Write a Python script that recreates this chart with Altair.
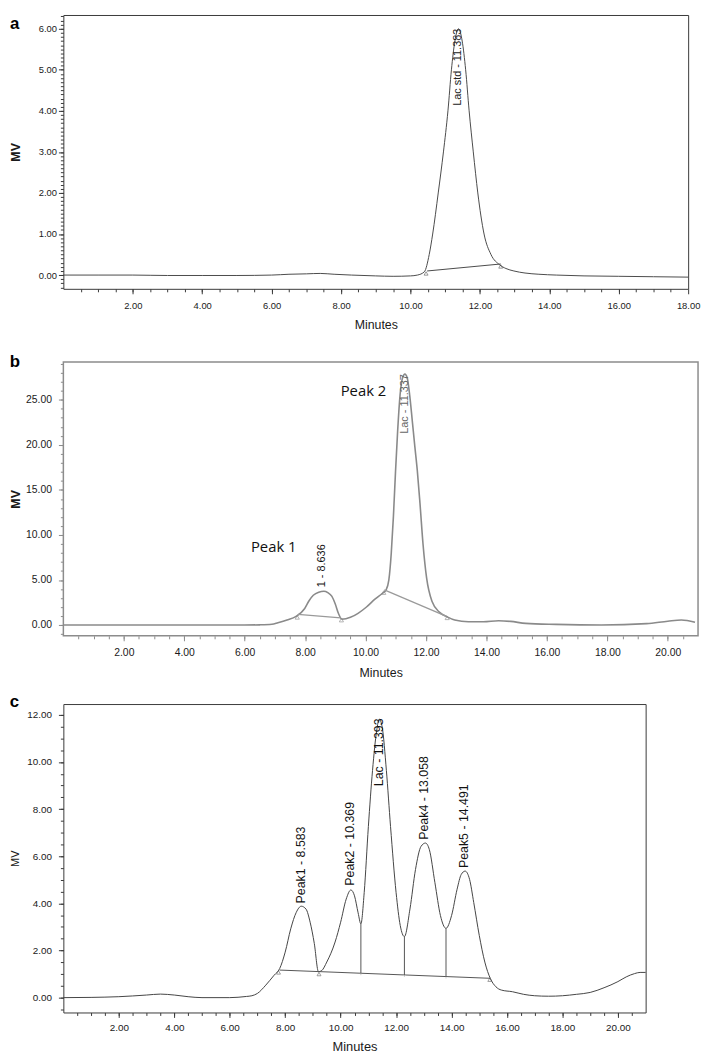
import altair as alt
import pandas as pd

FONT = "Liberation Sans"

# ---------------- Panel a : lactose standard ----------------
A_T = [0, 1, 2, 3, 4, 5, 6, 6.5, 7.0, 7.4, 7.8, 8.3, 9.0, 9.5, 10.0, 10.2, 10.4, 10.54, 10.64,
       10.8, 10.95, 11.08, 11.18, 11.28, 11.383, 11.49, 11.59, 11.69, 11.81, 11.94, 12.12, 12.32,
       12.57, 12.75, 12.98, 13.3, 13.7, 14.2, 15, 16, 17, 18]
A_MV = [0, 0, 0, -0.01, -0.01, -0.01, 0.0, 0.02, 0.03, 0.04, 0.02, 0.0, -0.02, -0.03, -0.02, 0.0,
        0.08, 0.5, 1.0, 2.0, 3.0, 4.0, 5.0, 5.7, 6.0, 5.7, 5.0, 4.0, 3.0, 2.0, 1.0, 0.5, 0.25,
        0.16, 0.1, 0.05, 0.02, 0.0, -0.02, -0.03, -0.04, -0.05]
A_BASE_T = [10.48, 12.6]
A_BASE_MV = [0.1, 0.27]
A_MARK_T = [10.45, 12.6]
A_MARK_MV = [0.04, 0.21]
A_LAB = ["Lac std - 11.383"]
A_LAB_T = [11.383]
A_LAB_MV = [6.0]
A_XMAJ = [2, 4, 6, 8, 10, 12, 14, 16, 18]
A_YMAJ = [0, 1, 2, 3, 4, 5, 6]
A_LETTER = ["a"]
A_LETTER_T = [-1.54]
A_LETTER_MV = [6.0]

# ---------------- Panel b : sample ----------------
B_T = [0, 2, 4, 6, 6.5, 6.9, 7.1, 7.4, 7.7, 7.98, 8.13, 8.27, 8.45, 8.62, 8.75, 8.88, 9.0, 9.1,
       9.22, 9.35, 9.5, 9.75, 10.03, 10.32, 10.55, 10.68, 10.77, 10.85, 10.92, 10.99, 11.06,
       11.14, 11.22, 11.3, 11.38, 11.46, 11.55, 11.63, 11.71, 11.8, 11.9, 12.02, 12.2, 12.45,
       12.7, 12.95, 13.4, 13.9, 14.4, 14.8, 15.3, 16.3, 17.8, 19.3, 20.0, 20.45, 20.9]
B_MV = [0, 0, 0, 0, 0.02, 0.08, 0.25, 0.55, 0.95, 1.8, 2.7, 3.3, 3.65, 3.75, 3.6, 3.2, 2.3, 1.3,
        0.65, 0.7, 0.85, 1.3, 2.0, 2.9, 3.5, 3.9, 5.0, 8.0, 12.0, 17.0, 21.5, 25.5, 27.4, 27.85,
        27.4, 25.5, 22.5, 19.8, 17.2, 13.5, 9.0, 5.2, 2.6, 1.4, 0.9, 0.55, 0.36, 0.36, 0.47,
        0.4, 0.18, 0.07, 0.0, 0.15, 0.42, 0.55, 0.3]
B_BASE_T = [7.76, 9.18, 10.62, 12.68]
B_BASE_MV = [1.17, 0.8, 3.9, 0.95]
B_BASE_SEG = ["p1", "p1", "p2", "p2"]
B_MARK_T = [7.74, 9.2, 10.6, 12.7]
B_MARK_MV = [0.85, 0.55, 3.6, 0.8]
B_LAB_R = ["Lac - 11.337"]
B_LAB_R_T = [11.3]
B_LAB_R_MV = [27.85]
B_LAB_L = ["1 - 8.636"]
B_LAB_L_T = [8.56]
B_LAB_L_MV = [4.2]
B_ANN = ["Peak 1", "Peak 2"]
B_ANN_T = [6.96, 9.93]
B_ANN_MV = [8.7, 26.0]
B_XMAJ = [2, 4, 6, 8, 10, 12, 14, 16, 18, 20]
B_YMAJ = [0, 5, 10, 15, 20, 25]
B_LETTER = ["b"]
B_LETTER_T = [-1.77]
B_LETTER_MV = [28.65]

# ---------------- Panel c : sample ----------------
C_T = [0, 1, 2, 3, 3.5, 4, 4.5, 5, 6, 6.6, 6.8, 7.0, 7.3, 7.6, 7.8, 8.0, 8.2, 8.4, 8.58, 8.75,
       8.9, 9.05, 9.2, 9.32, 9.5, 9.8, 10.0, 10.2, 10.37, 10.5, 10.63, 10.73, 10.85, 11.0, 11.15,
       11.3, 11.39, 11.5, 11.65, 11.8, 12.0, 12.15, 12.3, 12.5, 12.7, 12.9, 13.06, 13.2, 13.4,
       13.6, 13.8, 14.0, 14.2, 14.35, 14.49, 14.65, 14.8, 15.0, 15.2, 15.4, 15.6, 15.8, 16.2,
       16.6, 17.0, 17.5, 18.0, 18.5, 19.0, 19.5, 20.0, 20.3, 20.6, 20.8, 21.0]
C_MV = [0, 0.01, 0.04, 0.11, 0.15, 0.11, 0.04, 0.0, 0.0, 0.05, 0.08, 0.18, 0.53, 0.95, 1.23,
        1.93, 2.92, 3.62, 3.88, 3.76, 3.2, 2.3, 1.1, 1.15, 1.51, 2.36, 3.2, 4.18, 4.57, 4.32,
        3.6, 3.13, 4.46, 7.26, 9.64, 11.33, 11.82, 11.47, 9.64, 7.26, 4.46, 3.06, 2.59, 3.76,
        5.44, 6.42, 6.56, 6.28, 4.88, 3.48, 2.94, 3.48, 4.6, 5.23, 5.37, 5.02, 4.04, 2.64, 1.51,
        0.81, 0.46, 0.32, 0.25, 0.14, 0.08, 0.06, 0.08, 0.14, 0.22, 0.42, 0.68, 0.88, 1.02,
        1.07, 1.07]
C_BASE_T = [7.8, 15.4]
C_BASE_MV = [1.17, 0.82]
C_DROP_T = [10.73, 12.3, 13.8]
C_DROP_TOP = [3.13, 2.59, 2.94]
C_DROP_BOT = [0.95, 0.88, 0.81]
C_TRI_T = [7.76, 9.22, 15.38]
C_TRI_MV = [1.07, 1.0, 0.76]
C_LAB_L = ["Peak1 - 8.583", "Peak2 - 10.369", "Peak4 - 13.058", "Peak5 - 14.491"]
C_LAB_L_T = [8.56, 10.33, 13.01, 14.46]
C_LAB_L_MV = [4.0, 4.75, 6.7, 5.5]
C_LAB_R = ["Lac - 11.393"]
C_LAB_R_T = [11.39]
C_LAB_R_MV = [11.85]
C_XMAJ = [2, 4, 6, 8, 10, 12, 14, 16, 18, 20]
C_YMAJ = [0, 2, 4, 6, 8, 10, 12]
C_LETTER = ["c"]
C_LETTER_T = [-1.93]
C_LETTER_MV = [12.33]


def steps(lo, hi, step):
    out, v = [], lo
    while v <= hi + 1e-9:
        out.append(round(v, 3))
        v += step
    return out


def make_axes(col, xmaj, xmin, ymaj, ymin, lab_size, x_lab_pad, y_lab_pad,
              xt_size, xt_pad, yt_size, yt_weight, yt_pad):
    ax_x = alt.Axis(orient="bottom", values=xmaj, format=".2f", title="Minutes", grid=False,
                    domain=False, tickSize=5, tickColor=col, tickWidth=1,
                    labelFont=FONT, labelFontSize=lab_size, labelColor="#1a1a1a",
                    labelPadding=x_lab_pad, labelFlush=False, labelOverlap=False,
                    titleFont=FONT, titleFontSize=xt_size, titleFontWeight="normal",
                    titleColor="#1a1a1a", titlePadding=xt_pad)
    ax_xm = alt.Axis(orient="bottom", values=xmin, labels=False, title=None, grid=False,
                     domain=False, tickSize=3, tickColor=col, tickWidth=1)
    ax_y = alt.Axis(orient="left", values=ymaj, format=".2f", title="MV", grid=False,
                    domain=False, tickSize=5, tickColor=col, tickWidth=1,
                    labelFont=FONT, labelFontSize=lab_size, labelColor="#1a1a1a",
                    labelPadding=y_lab_pad, labelFlush=False, labelOverlap=False,
                    titleFont=FONT, titleFontSize=yt_size, titleFontWeight=yt_weight,
                    titleColor="#1a1a1a", titlePadding=yt_pad)
    ax_ym = alt.Axis(orient="left", values=ymin, labels=False, title=None, grid=False,
                     domain=False, tickSize=3, tickColor=col, tickWidth=1)
    return ax_x, ax_xm, ax_y, ax_ym


def vtext(df, xs, ys, align, size, color, font=FONT):
    return alt.Chart(df).mark_text(angle=270, align=align, baseline="middle", font=font,
                                   fontSize=size, color=color).encode(
        x=alt.X("t:Q", scale=xs, axis=None), y=alt.Y("mv:Q", scale=ys, axis=None), text="lab:N")


def letter(letters, ts, mvs, xs, ys):
    return alt.Chart(pd.DataFrame({"t": ts, "mv": mvs, "lab": letters})).mark_text(
        align="left", baseline="alphabetic", font=FONT, fontSize=17, fontWeight="bold",
        color="#000000").encode(
        x=alt.X("t:Q", scale=xs, axis=None), y=alt.Y("mv:Q", scale=ys, axis=None), text="lab:N")


# ---------------- build panel a ----------------
xs_a = alt.Scale(domain=[0, 18], nice=False, zero=False)
ys_a = alt.Scale(domain=[-0.335, 6.335], nice=False, zero=False)
col_a = "#3a3a3a"
ax = make_axes(col_a, A_XMAJ, steps(0.5, 17.5, 0.5), A_YMAJ, steps(-0.3, 6.3, 0.1),
               9.5, 7, 2, 12.5, 8.5, 12.5, "bold", 16)
a_curve = alt.Chart(pd.DataFrame({"t": A_T, "mv": A_MV})).mark_line(
    interpolate="monotone", color="#4a4a4a", strokeWidth=1).encode(
    x=alt.X("t:Q", scale=xs_a, axis=ax[0]), y=alt.Y("mv:Q", scale=ys_a, axis=ax[2]))
a_base = alt.Chart(pd.DataFrame({"t": A_BASE_T, "mv": A_BASE_MV})).mark_line(
    color="#4a4a4a", strokeWidth=1).encode(
    x=alt.X("t:Q", scale=xs_a, axis=ax[1]), y=alt.Y("mv:Q", scale=ys_a, axis=ax[3]))
a_mark = alt.Chart(pd.DataFrame({"t": A_MARK_T, "mv": A_MARK_MV})).mark_point(
    shape="triangle-up", size=16, filled=False, color="#4a4a4a", strokeWidth=0.8).encode(
    x=alt.X("t:Q", scale=xs_a, axis=None), y=alt.Y("mv:Q", scale=ys_a, axis=None))
a_lab = vtext(pd.DataFrame({"t": A_LAB_T, "mv": A_LAB_MV, "lab": A_LAB}), xs_a, ys_a,
              "right", 11, "#222222")
a_let = letter(A_LETTER, A_LETTER_T, A_LETTER_MV, xs_a, ys_a)
panel_a = alt.layer(a_curve, a_base, a_mark, a_lab, a_let).resolve_axis(
    x="independent", y="independent").properties(
    width=632, height=277, view=alt.ViewBackground(stroke=col_a, strokeWidth=1))

# ---------------- build panel b ----------------
xs_b = alt.Scale(domain=[0, 21], nice=False, zero=False)
ys_b = alt.Scale(domain=[-1.2, 29.2], nice=False, zero=False)
col_b = "#8c8c8c"
ax = make_axes(col_b, B_XMAJ, steps(0.5, 20.5, 0.5), B_YMAJ, steps(-1, 29, 1),
               10.5, 7, 7, 12.5, 8.5, 12.5, "bold", 3)
b_curve = alt.Chart(pd.DataFrame({"t": B_T, "mv": B_MV})).mark_line(
    interpolate="monotone", color="#8a8a8a", strokeWidth=1.6).encode(
    x=alt.X("t:Q", scale=xs_b, axis=ax[0]), y=alt.Y("mv:Q", scale=ys_b, axis=ax[2]))
b_base = alt.Chart(pd.DataFrame({"t": B_BASE_T, "mv": B_BASE_MV, "seg": B_BASE_SEG})).mark_line(
    color="#9a9a9a", strokeWidth=1.3).encode(
    x=alt.X("t:Q", scale=xs_b, axis=ax[1]), y=alt.Y("mv:Q", scale=ys_b, axis=ax[3]),
    detail="seg:N")
b_mark = alt.Chart(pd.DataFrame({"t": B_MARK_T, "mv": B_MARK_MV})).mark_point(
    shape="triangle-up", size=18, filled=False, color="#888888", strokeWidth=0.9).encode(
    x=alt.X("t:Q", scale=xs_b, axis=None), y=alt.Y("mv:Q", scale=ys_b, axis=None))
b_lab_r = vtext(pd.DataFrame({"t": B_LAB_R_T, "mv": B_LAB_R_MV, "lab": B_LAB_R}), xs_b, ys_b,
                "right", 11, "#666666")
b_lab_l = vtext(pd.DataFrame({"t": B_LAB_L_T, "mv": B_LAB_L_MV, "lab": B_LAB_L}), xs_b, ys_b,
                "left", 11, "#111111")
b_ann = alt.Chart(pd.DataFrame({"t": B_ANN_T, "mv": B_ANN_MV, "lab": B_ANN})).mark_text(
    font="Open Sans", fontSize=15, color="#111111", align="center", baseline="middle").encode(
    x=alt.X("t:Q", scale=xs_b, axis=None), y=alt.Y("mv:Q", scale=ys_b, axis=None), text="lab:N")
b_let = letter(B_LETTER, B_LETTER_T, B_LETTER_MV, xs_b, ys_b)
panel_b = alt.layer(b_curve, b_base, b_mark, b_lab_r, b_lab_l, b_ann, b_let).resolve_axis(
    x="independent", y="independent").properties(
    width=642, height=277, view=alt.ViewBackground(stroke=col_b, strokeWidth=1.5))

# ---------------- build panel c ----------------
xs_c = alt.Scale(domain=[0, 21], nice=False, zero=False)
ys_c = alt.Scale(domain=[-0.63, 12.46], nice=False, zero=False)
col_c = "#3a3a3a"
ax = make_axes(col_c, C_XMAJ, steps(0.5, 20.5, 0.5), C_YMAJ, steps(-0.5, 12, 0.5),
               10, 5, 7, 13, 8, 11, "normal", 6)
c_curve = alt.Chart(pd.DataFrame({"t": C_T, "mv": C_MV})).mark_line(
    interpolate="monotone", color="#444444", strokeWidth=1).encode(
    x=alt.X("t:Q", scale=xs_c, axis=ax[0]), y=alt.Y("mv:Q", scale=ys_c, axis=ax[2]))
c_base = alt.Chart(pd.DataFrame({"t": C_BASE_T, "mv": C_BASE_MV})).mark_line(
    color="#555555", strokeWidth=1).encode(
    x=alt.X("t:Q", scale=xs_c, axis=ax[1]), y=alt.Y("mv:Q", scale=ys_c, axis=ax[3]))
c_drop = alt.Chart(pd.DataFrame({"t": C_DROP_T, "top": C_DROP_TOP, "bot": C_DROP_BOT})).mark_rule(
    color="#555555", strokeWidth=1).encode(
    x=alt.X("t:Q", scale=xs_c, axis=None), y=alt.Y("top:Q", scale=ys_c, axis=None), y2="bot:Q")
c_circ = alt.Chart(pd.DataFrame({"t": C_DROP_T, "mv": C_DROP_BOT})).mark_point(
    shape="circle", size=12, filled=True, fill="white", color="#555555", strokeWidth=0.8).encode(
    x=alt.X("t:Q", scale=xs_c, axis=None), y=alt.Y("mv:Q", scale=ys_c, axis=None))
c_tri = alt.Chart(pd.DataFrame({"t": C_TRI_T, "mv": C_TRI_MV})).mark_point(
    shape="triangle-up", size=16, filled=False, color="#555555", strokeWidth=0.8).encode(
    x=alt.X("t:Q", scale=xs_c, axis=None), y=alt.Y("mv:Q", scale=ys_c, axis=None))
c_lab_l = vtext(pd.DataFrame({"t": C_LAB_L_T, "mv": C_LAB_L_MV, "lab": C_LAB_L}), xs_c, ys_c,
                "left", 12.5, "#111111")
c_lab_r = vtext(pd.DataFrame({"t": C_LAB_R_T, "mv": C_LAB_R_MV, "lab": C_LAB_R}), xs_c, ys_c,
                "right", 12.5, "#111111")
c_let = letter(C_LETTER, C_LETTER_T, C_LETTER_MV, xs_c, ys_c)
panel_c = alt.layer(c_curve, c_base, c_drop, c_circ, c_tri, c_lab_l, c_lab_r, c_let).resolve_axis(
    x="independent", y="independent").properties(
    width=589, height=312, view=alt.ViewBackground(stroke=col_c, strokeWidth=1))

chart = alt.vconcat(panel_a, alt.vconcat(panel_b, panel_c, spacing=12), spacing=21).properties(
    padding={"top": 0, "left": 0, "right": 0, "bottom": 0}, background="white",
    autosize=alt.AutoSizeParams(type="pad"))

chart.save("out.html", embed_options={"renderer": "svg", "actions": False})
